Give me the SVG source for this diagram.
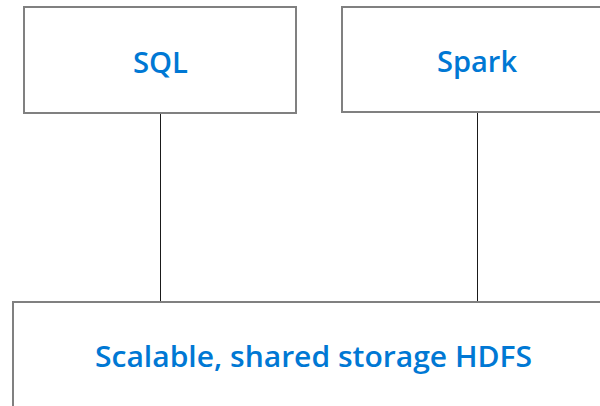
<svg xmlns="http://www.w3.org/2000/svg" width="600" height="406" viewBox="0 0 600 406">
<style>
.box{fill:#fff;stroke:#808080;stroke-width:2}
.lbl{font-family:"Open Sans","Noto Sans",sans-serif;font-size:29px;font-weight:600;fill:#0078d4;text-anchor:middle}
.conn{stroke:#1a1a1a;stroke-width:1}
</style>
<rect width="600" height="406" fill="#fff"/>
<g id="connectors">
<line class="conn" x1="160.5" y1="113" x2="160.5" y2="302"/>
<line class="conn" x1="477.5" y1="112" x2="477.5" y2="302"/>
</g>
<g id="sql">
<rect class="box" x="24" y="7" width="272" height="106"/>
<text class="lbl" x="160.5" y="73" textLength="55" lengthAdjust="spacingAndGlyphs">SQL</text>
</g>
<g id="spark">
<rect class="box" x="342" y="7" width="270" height="105"/>
<text class="lbl" x="477" y="72" textLength="80" lengthAdjust="spacingAndGlyphs">Spark</text>
</g>
<g id="hdfs">
<rect class="box" x="13" y="302" width="600" height="120"/>
<text class="lbl" x="313.5" y="367" textLength="437" lengthAdjust="spacingAndGlyphs">Scalable, shared storage HDFS</text>
</g>
</svg>
